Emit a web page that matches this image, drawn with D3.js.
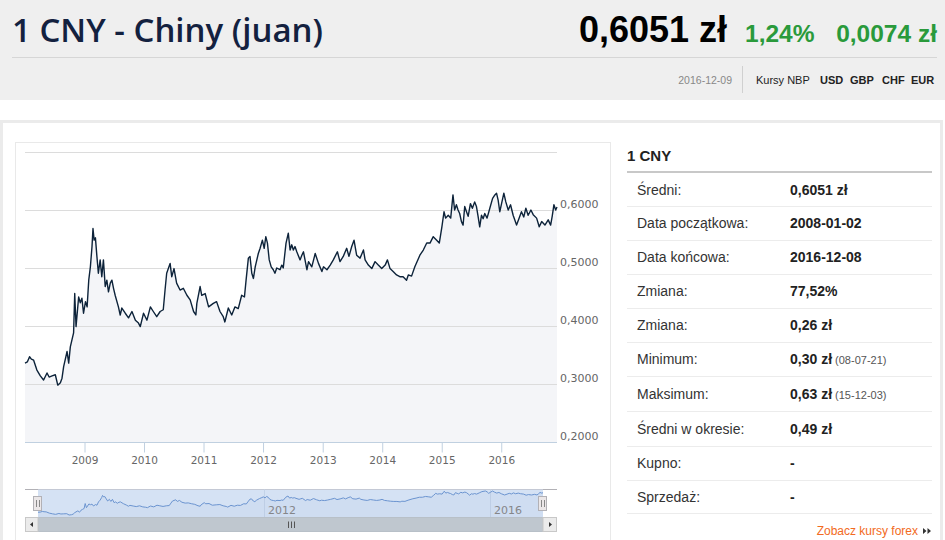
<!DOCTYPE html>
<html>
<head>
<meta charset="utf-8">
<script src="https://cdn.jsdelivr.net/npm/d3@7"></script>
<style>
  body { margin: 0; background: #fff; }
  svg { display: block; }
</style>
</head>
<body>
<div id="page"></div>
<script>
// kurs 1 CNY w PLN, odczyt z wykresu
var dates = [
  "2008-01-02","2008-01-16","2008-01-30","2008-02-10","2008-02-24","2008-03-15","2008-04-05","2008-04-25",
  "2008-05-16","2008-05-29","2008-06-16","2008-07-06","2008-07-21","2008-08-06","2008-08-16","2008-08-26",
  "2008-09-16","2008-09-26","2008-10-06","2008-10-16","2008-10-26","2008-11-02","2008-11-10","2008-11-26",
  "2008-12-06","2008-12-16","2008-12-26","2009-01-07","2009-01-17","2009-01-27","2009-02-06","2009-02-16",
  "2009-02-22","2009-03-01","2009-03-09","2009-03-18","2009-03-27","2009-04-07","2009-04-17","2009-04-27",
  "2009-05-08","2009-05-18","2009-05-28","2009-06-08","2009-06-18","2009-06-28","2009-07-08","2009-07-28",
  "2009-08-08","2009-08-18","2009-09-08","2009-09-28","2009-10-19","2009-11-09","2009-11-28","2009-12-09",
  "2009-12-29","2010-01-19","2010-02-09","2010-02-27","2010-03-20","2010-04-10","2010-04-29","2010-05-10",
  "2010-05-20","2010-06-10","2010-06-20","2010-07-04","2010-07-20","2010-08-10","2010-08-30","2010-09-21",
  "2010-10-11","2010-11-01","2010-11-15","2010-11-21","2010-12-11","2010-12-21","2011-01-11","2011-02-01",
  "2011-03-02","2011-03-22","2011-04-12","2011-05-02","2011-05-12","2011-06-02","2011-06-23","2011-07-13",
  "2011-08-02","2011-08-23","2011-09-09","2011-09-19","2011-10-03","2011-10-13","2011-10-24","2011-11-03",
  "2011-11-14","2011-12-03","2011-12-14","2011-12-28","2012-01-08","2012-01-18","2012-01-28","2012-02-08",
  "2012-02-20","2012-03-04","2012-03-14","2012-03-25","2012-04-14","2012-04-25","2012-05-04","2012-05-21",
  "2012-06-04","2012-06-15","2012-06-25","2012-07-05","2012-07-15","2012-07-26","2012-08-15","2012-08-26",
  "2012-09-05","2012-09-26","2012-10-06","2012-10-26","2012-11-16","2012-12-06","2012-12-27","2013-01-06",
  "2013-01-27","2013-02-16","2013-03-07","2013-04-01","2013-04-17","2013-05-07","2013-05-28","2013-06-11",
  "2013-06-28","2013-07-12","2013-07-28","2013-08-18","2013-09-08","2013-09-18","2013-10-08","2013-10-29",
  "2013-11-18","2013-12-08","2013-12-29","2014-01-19","2014-02-02","2014-02-18","2014-03-09","2014-03-30",
  "2014-04-19","2014-05-09","2014-05-30","2014-06-10","2014-06-30","2014-07-20","2014-08-20","2014-09-10",
  "2014-10-01","2014-10-21","2014-11-10","2014-12-01","2014-12-17","2015-01-02","2015-01-15","2015-01-25",
  "2015-02-10","2015-02-25","2015-03-11","2015-03-21","2015-04-01","2015-04-11","2015-04-21","2015-05-02",
  "2015-05-12","2015-05-22","2015-06-02","2015-06-12","2015-06-26","2015-07-08","2015-07-22","2015-08-02",
  "2015-08-12","2015-08-22","2015-09-02","2015-09-12","2015-09-22","2015-10-06","2015-10-23","2015-11-09",
  "2015-11-23","2015-12-03","2015-12-13","2015-12-23","2016-01-03","2016-01-17","2016-01-29","2016-02-13",
  "2016-02-27","2016-03-14","2016-04-04","2016-04-20","2016-05-04","2016-05-18","2016-05-31","2016-06-14",
  "2016-07-01","2016-07-15","2016-08-05","2016-08-21","2016-09-05","2016-09-25","2016-10-15","2016-10-30",
  "2016-11-09","2016-11-19","2016-11-30","2016-12-08"
]
var rates = [
  0.336,0.338,0.347,0.343,0.341,0.324,0.314,0.307,
  0.319,0.312,0.314,0.316,0.298,0.302,0.310,0.330,
  0.356,0.336,0.364,0.376,0.388,0.456,0.399,0.450,
  0.440,0.448,0.422,0.442,0.433,0.479,0.502,0.537,
  0.568,0.548,0.552,0.520,0.491,0.514,0.485,0.514,
  0.468,0.479,0.459,0.474,0.479,0.465,0.453,0.433,
  0.419,0.431,0.422,0.414,0.425,0.410,0.405,0.399,
  0.422,0.410,0.433,0.425,0.416,0.425,0.428,0.462,
  0.491,0.508,0.485,0.499,0.474,0.462,0.465,0.453,
  0.445,0.425,0.419,0.439,0.468,0.453,0.456,0.433,
  0.439,0.442,0.425,0.416,0.407,0.431,0.419,0.433,
  0.430,0.453,0.450,0.479,0.517,0.520,0.491,0.482,
  0.502,0.525,0.534,0.548,0.534,0.554,0.543,0.514,
  0.502,0.497,0.491,0.500,0.497,0.505,0.500,0.543,
  0.560,0.531,0.540,0.531,0.537,0.528,0.514,0.522,
  0.528,0.497,0.511,0.502,0.525,0.508,0.494,0.502,
  0.497,0.505,0.514,0.528,0.511,0.520,0.534,0.520,
  0.537,0.548,0.522,0.517,0.531,0.514,0.505,0.499,
  0.511,0.505,0.499,0.505,0.514,0.499,0.494,0.488,
  0.485,0.485,0.479,0.488,0.486,0.502,0.522,0.531,
  0.543,0.543,0.554,0.548,0.543,0.571,0.597,0.586,
  0.591,0.586,0.626,0.600,0.609,0.600,0.594,0.580,
  0.574,0.606,0.597,0.589,0.611,0.603,0.614,0.606,
  0.589,0.571,0.591,0.585,0.594,0.586,0.603,0.620,
  0.626,0.629,0.617,0.597,0.611,0.629,0.614,0.600,
  0.609,0.591,0.574,0.586,0.597,0.588,0.603,0.591,
  0.600,0.592,0.586,0.571,0.580,0.574,0.583,0.574,
  0.590,0.609,0.600,0.6051
]
var yTicks = [0.2, 0.3, 0.4, 0.5, 0.6, 0.7]

var statLabels = ["Średni:", "Data początkowa:", "Data końcowa:", "Zmiana:", "Zmiana:",
                  "Minimum:", "Maksimum:", "Średni w okresie:", "Kupno:", "Sprzedaż:"]
var statValues = ["0,6051 zł", "2008-01-02", "2016-12-08", "77,52%", "0,26 zł",
                  "0,30 zł", "0,63 zł", "0,49 zł", "-", "-"]
var statNotes = ["", "", "", "", "", "(08-07-21)", "(15-12-03)", "", "", ""]
var nbpLinks = ["USD", "GBP", "CHF", "EUR"]

var parse = d3.timeParse("%Y-%m-%d")
var data = dates.map(function(d, i){ return { date: parse(d), value: rates[i] } })

var W = 945, H = 540
var svg = d3.select("#page").append("svg").attr("width", W).attr("height", H)

// ---- naglowek
svg.append("rect").attr("width", W).attr("height", 100).attr("fill", "#efefef")
svg.append("text").attr("x", 12).attr("y", 42)
  .style("font", "600 33px 'Open Sans'").attr("fill", "#13213f")
  .text("1 CNY - Chiny (juan)")
svg.append("text").attr("x", 727).attr("y", 42).attr("text-anchor", "end")
  .style("font", "bold 36px 'Liberation Sans', Arial").attr("fill", "#000")
  .text("0,6051 zł")
svg.append("text").attr("x", 745).attr("y", 42)
  .style("font", "bold 24.5px 'Liberation Sans', Arial").attr("fill", "#2a9a3b")
  .text("1,24%")
svg.append("text").attr("x", 937).attr("y", 42).attr("text-anchor", "end")
  .style("font", "bold 24.5px 'Liberation Sans', Arial").attr("fill", "#2a9a3b")
  .text("0,0074 zł")
svg.append("line").attr("x1", 12).attr("x2", 937).attr("y1", 57.5).attr("y2", 57.5)
  .attr("stroke", "#d6d6d6")
svg.append("text").attr("x", 732).attr("y", 84).attr("text-anchor", "end")
  .style("font", "10.5px 'Liberation Sans', Arial").attr("fill", "#888")
  .text("2016-12-09")
svg.append("line").attr("x1", 742.5).attr("x2", 742.5).attr("y1", 66).attr("y2", 93)
  .attr("stroke", "#d0d0d0")
svg.append("text").attr("x", 756).attr("y", 84)
  .style("font", "11px 'Liberation Sans', Arial").attr("fill", "#222")
  .text("Kursy NBP")
svg.selectAll("text.nbp").data(nbpLinks).enter().append("text")
  .attr("class", "nbp")
  .attr("x", function(d, i){ return [820, 850, 882, 911][i] })
  .attr("y", 84)
  .style("font", "bold 11px 'Liberation Sans', Arial").attr("fill", "#222")
  .text(function(d){ return d })

// ---- ramki
svg.append("rect").attr("x", 1.5).attr("y", 121.5).attr("width", 940).attr("height", 440)
  .attr("fill", "#fff").attr("stroke", "#ebebeb").attr("stroke-width", 3)
svg.append("rect").attr("x", 15.5).attr("y", 142.5).attr("width", 595).attr("height", 420)
  .attr("fill", "#fff").attr("stroke", "#e9e9e9")

// ---- wykres glowny
var plotLeft = 25, plotRight = 557, plotTop = 152, plotBottom = 442
var x = d3.scaleTime().domain([data[0].date, data[data.length - 1].date]).range([plotLeft, plotRight])
var y = d3.scaleLinear().domain([0.2, 0.7]).range([plotBottom, plotTop])

var area = d3.area().x(function(d){ return x(d.date) }).y0(plotBottom).y1(function(d){ return y(d.value) })
var line = d3.line().x(function(d){ return x(d.date) }).y(function(d){ return y(d.value) })

svg.append("path").datum(data).attr("d", area).attr("fill", "#f4f5f8")

svg.selectAll("line.grid").data(yTicks.slice(1)).enter().append("line")
  .attr("class", "grid")
  .attr("x1", plotLeft).attr("x2", plotRight)
  .attr("y1", function(d){ return Math.round(y(d)) + 0.5 })
  .attr("y2", function(d){ return Math.round(y(d)) + 0.5 })
  .attr("stroke", "#dcdcdc").attr("stroke-width", 1.2)

svg.append("path").datum(data).attr("d", line)
  .attr("fill", "none").attr("stroke", "#0d233a").attr("stroke-width", 1.4)
  .attr("stroke-linejoin", "round")

var fmt = d3.format(".4f")
svg.selectAll("text.ylab").data(yTicks.slice(0, 5)).enter().append("text")
  .attr("class", "ylab")
  .attr("x", 560).attr("y", function(d){ return y(d) - 2 })
  .style("font", "11px 'DejaVu Sans'").attr("fill", "#666")
  .text(function(d){ return fmt(d).replace(".", ",") })

var xAxis = d3.axisBottom(x).ticks(d3.timeYear.every(1)).tickSize(10).tickPadding(4)
  .tickFormat(d3.timeFormat("%Y"))
var gx = svg.append("g").attr("transform", "translate(0," + (plotBottom + 0.5) + ")").call(xAxis)
gx.select(".domain").attr("stroke", "#c0d0e0").attr("d", "M" + plotLeft + ",0H" + plotRight)
gx.selectAll(".tick line").attr("stroke", "#c0d0e0")
gx.selectAll(".tick text").style("font", "10.5px 'DejaVu Sans'").attr("fill", "#666")

// ---- nawigator
var nx = d3.scaleTime().domain(x.domain()).range([38, 543])
var ny = d3.scaleLinear().domain(d3.extent(rates)).range([515, 491])
var navTop = 489.5, navBottom = 517.5

svg.append("line").attr("x1", plotLeft).attr("x2", plotRight).attr("y1", navTop).attr("y2", navTop)
  .attr("stroke", "#b2b1b6")
svg.append("rect").attr("x", 38).attr("y", navTop).attr("width", 505).attr("height", navBottom - navTop)
  .attr("fill", "#d5e2f4")

var navYears = nx.ticks(d3.timeYear.every(4))
svg.selectAll("line.navgrid").data(navYears).enter().append("line")
  .attr("class", "navgrid")
  .attr("x1", function(d){ return Math.round(nx(d)) + 0.5 })
  .attr("x2", function(d){ return Math.round(nx(d)) + 0.5 })
  .attr("y1", navTop).attr("y2", navBottom)
  .attr("stroke", "#c3d3e8")
svg.selectAll("text.navlab").data(navYears).enter().append("text")
  .attr("class", "navlab")
  .attr("x", function(d){ return nx(d) + 4 }).attr("y", 514)
  .style("font", "11px 'DejaVu Sans'").attr("fill", "#888")
  .text(d3.timeFormat("%Y"))

var navArea = d3.area().x(function(d){ return nx(d.date) }).y0(navBottom).y1(function(d){ return ny(d.value) })
var navLine = d3.line().x(function(d){ return nx(d.date) }).y(function(d){ return ny(d.value) })
svg.append("path").datum(data).attr("d", navArea).attr("fill", "#4572a7").attr("fill-opacity", 0.04)
svg.append("path").datum(data).attr("d", navLine)
  .attr("fill", "none").attr("stroke", "#6b94d0").attr("stroke-width", 1)

// uchwyty
svg.selectAll("g.handle").data([38, 543]).enter().append("g")
  .attr("class", "handle")
  .each(function(hx){
    var g = d3.select(this)
    g.append("rect").attr("x", hx - 4.5).attr("y", 496.5).attr("width", 8).attr("height", 14)
      .attr("fill", "#ebe7e8").attr("stroke", "#b2b1b6")
    g.append("path").attr("d", "M" + (hx - 1.5) + ",500V507M" + (hx + 1.5) + ",500V507")
      .attr("stroke", "#888").attr("fill", "none")
  })

// pasek przewijania
svg.append("rect").attr("x", plotLeft + 0.5).attr("y", navBottom).attr("width", plotRight - plotLeft - 1).attr("height", 14)
  .attr("fill", "#eeeeee").attr("stroke", "#cfcfcf")
svg.append("rect").attr("x", 38).attr("y", navBottom).attr("width", 505).attr("height", 14)
  .attr("fill", "#bfc7cf").attr("stroke", "#b8c0c8")
svg.append("path").attr("d", "M288.5,521.5V528M291.5,521.5V528M294.5,521.5V528")
  .attr("stroke", "#555").attr("fill", "none")
svg.append("rect").attr("x", plotLeft + 0.5).attr("y", navBottom).attr("width", 12.5).attr("height", 14)
  .attr("fill", "#ebebeb").attr("stroke", "#c8c8c8")
svg.append("rect").attr("x", 543).attr("y", navBottom).attr("width", 13.5).attr("height", 14)
  .attr("fill", "#ebebeb").attr("stroke", "#c8c8c8")
svg.append("path").attr("d", "M30,524.5L33,522V527Z").attr("fill", "#333")
svg.append("path").attr("d", "M552,524.5L549,522V527Z").attr("fill", "#333")

// ---- tabela
svg.append("text").attr("x", 627).attr("y", 161)
  .style("font", "bold 15px 'Liberation Sans', Arial").attr("fill", "#222")
  .text("1 CNY")
svg.append("line").attr("x1", 627).attr("x2", 932).attr("y1", 172).attr("y2", 172)
  .attr("stroke", "#c8c8c8").attr("stroke-width", 2)

var rowEdges = [173, 206, 240, 274, 308, 342, 376, 411, 446, 480, 513]
var rows = svg.selectAll("g.row").data(statLabels).enter().append("g").attr("class", "row")
rows.append("line")
  .attr("x1", 627).attr("x2", 932)
  .attr("y1", function(d, i){ return rowEdges[i + 1] + 0.5 })
  .attr("y2", function(d, i){ return rowEdges[i + 1] + 0.5 })
  .attr("stroke", "#ececec")
rows.append("text")
  .attr("x", 637).attr("y", function(d, i){ return (rowEdges[i] + rowEdges[i + 1]) / 2 + 5 })
  .style("font", "14px 'Liberation Sans', Arial").attr("fill", "#333")
  .text(function(d){ return d })
var vals = rows.append("text")
  .attr("x", 790).attr("y", function(d, i){ return (rowEdges[i] + rowEdges[i + 1]) / 2 + 5 })
  .style("font", "bold 14px 'Liberation Sans', Arial").attr("fill", "#222")
vals.append("tspan").text(function(d, i){ return statValues[i] })
vals.append("tspan")
  .style("font", "11px 'Liberation Sans', Arial").attr("fill", "#555")
  .text(function(d, i){ return statNotes[i] ? " " + statNotes[i] : "" })

svg.append("text").attr("x", 918).attr("y", 535).attr("text-anchor", "end")
  .style("font", "12px 'Liberation Sans', Arial").attr("fill", "#f26a22")
  .text("Zobacz kursy forex")
svg.append("path").attr("d", "M923,528L926.5,531L923,534ZM927.5,528L931,531L927.5,534Z").attr("fill", "#333")
</script>
</body>
</html>
